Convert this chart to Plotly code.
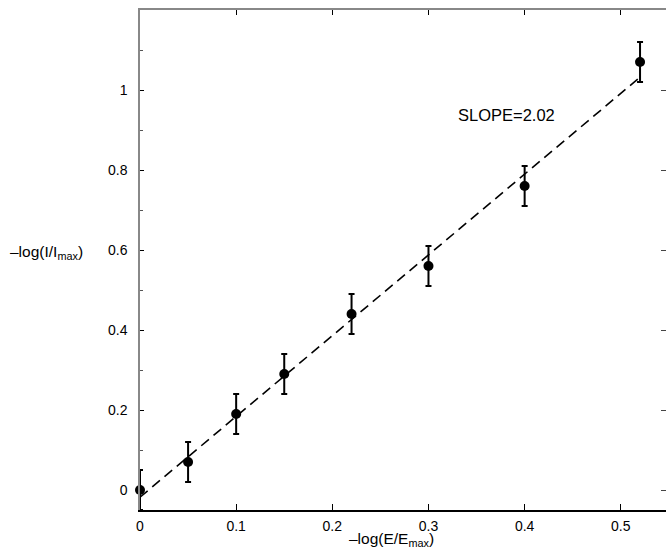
import plotly.graph_objects as go

# data
x_vals = [0, 0.05, 0.1, 0.15, 0.22, 0.3, 0.4, 0.52]
y_vals = [0, 0.07, 0.19, 0.29, 0.44, 0.56, 0.76, 1.07]
y_err = [0.05, 0.05, 0.05, 0.05, 0.05, 0.05, 0.05, 0.05]
fit_x = [0, 0.52]
fit_y = [-0.018, 1.032]
y_ticks = [0, 0.2, 0.4, 0.6, 0.8, 1]
x_ticks = [0, 0.1, 0.2, 0.3, 0.4, 0.5]
slope_label = "SLOPE=2.02"
x_title = "–log(E/E<sub>max</sub>)"
y_title = "–log(I/I<sub>max</sub>)"

FONT = "Liberation Sans, Arial, Helvetica, sans-serif"
W, H = 666, 554
L, R, T, B = 140, 0, 10, 44
PW = W - L - R

fig = go.Figure()
fig.add_trace(go.Scatter(
    x=fit_x, y=fit_y, mode="lines",
    line=dict(color="black", width=1.6, dash="10px,6px"),
    showlegend=False, hoverinfo="skip", cliponaxis=False))
fig.add_trace(go.Scatter(
    x=x_vals, y=y_vals, mode="markers",
    marker=dict(color="black", size=10),
    error_y=dict(type="data", array=y_err, color="black", thickness=2, width=3),
    showlegend=False, cliponaxis=False))
# invisible trace for secondary axes
fig.add_trace(go.Scatter(x=[fit_x[0]], y=[fit_y[0]], xaxis="x2", yaxis="y2",
                         mode="markers", marker=dict(opacity=0), showlegend=False,
                         hoverinfo="skip"))

fig.add_annotation(x=0.3284, y=0.938, xref="x", yref="y", text=slope_label,
                   showarrow=False, xanchor="left", yanchor="middle",
                   font=dict(size=16.5, color="black", family=FONT))
fig.add_annotation(x=(8 - L) / PW, y=0.595, xref="paper", yref="y", text=y_title,
                   showarrow=False, xanchor="left", yanchor="middle",
                   font=dict(size=15.5, color="black", family=FONT))
fig.add_annotation(x=0.262, y=-0.058, xref="x", yref="paper", text=x_title,
                   showarrow=False, xanchor="center", yanchor="middle",
                   font=dict(size=15.5, color="black", family=FONT))

fig.update_layout(
    width=W, height=H,
    margin=dict(l=L, r=R, t=T, b=B, autoexpand=False),
    paper_bgcolor="white", plot_bgcolor="white",
    font=dict(family=FONT, size=14, color="black"),
    showlegend=False,
    xaxis=dict(range=[0, 0.547], showgrid=False, zeroline=False, automargin=False,
               showline=True, linecolor="black", linewidth=1.5,
               ticks="inside", ticklen=6, tickcolor="black", tickwidth=1,
               tickmode="array", tickvals=x_ticks, mirror=False, ticklabelstandoff=2),
    xaxis2=dict(range=[0, 0.547], overlaying="x", side="top", matches="x",
                showgrid=False, zeroline=False, showline=True, automargin=False,
                linecolor="#888888", linewidth=1.5,
                ticks="inside", ticklen=5, tickcolor="black", tickwidth=1,
                tickmode="array", tickvals=x_ticks, showticklabels=False),
    yaxis=dict(range=[-0.05, 1.2], showgrid=False, zeroline=False, automargin=False,
               showline=True, linecolor="#888888", linewidth=1.5,
               ticks="inside", ticklen=4, tickcolor="black", tickwidth=1,
               tickmode="array", tickvals=y_ticks, ticklabelstandoff=8,
               minor=dict(dtick=0.1, tick0=0, ticks="inside", ticklen=3,
                          tickcolor="#555555", showgrid=False)),
    yaxis2=dict(range=[-0.05, 1.2], overlaying="y", side="right", matches="y",
                showgrid=False, zeroline=False, showline=False, automargin=False,
                ticks="inside", ticklen=5, tickcolor="#444444", tickwidth=1,
                tickmode="array", tickvals=y_ticks, showticklabels=False),
)

fig.write_html(
    "out.html",
    config={"displayModeBar": False},
    post_script="document.body.style.margin='0';document.body.style.overflow='hidden';",
)
